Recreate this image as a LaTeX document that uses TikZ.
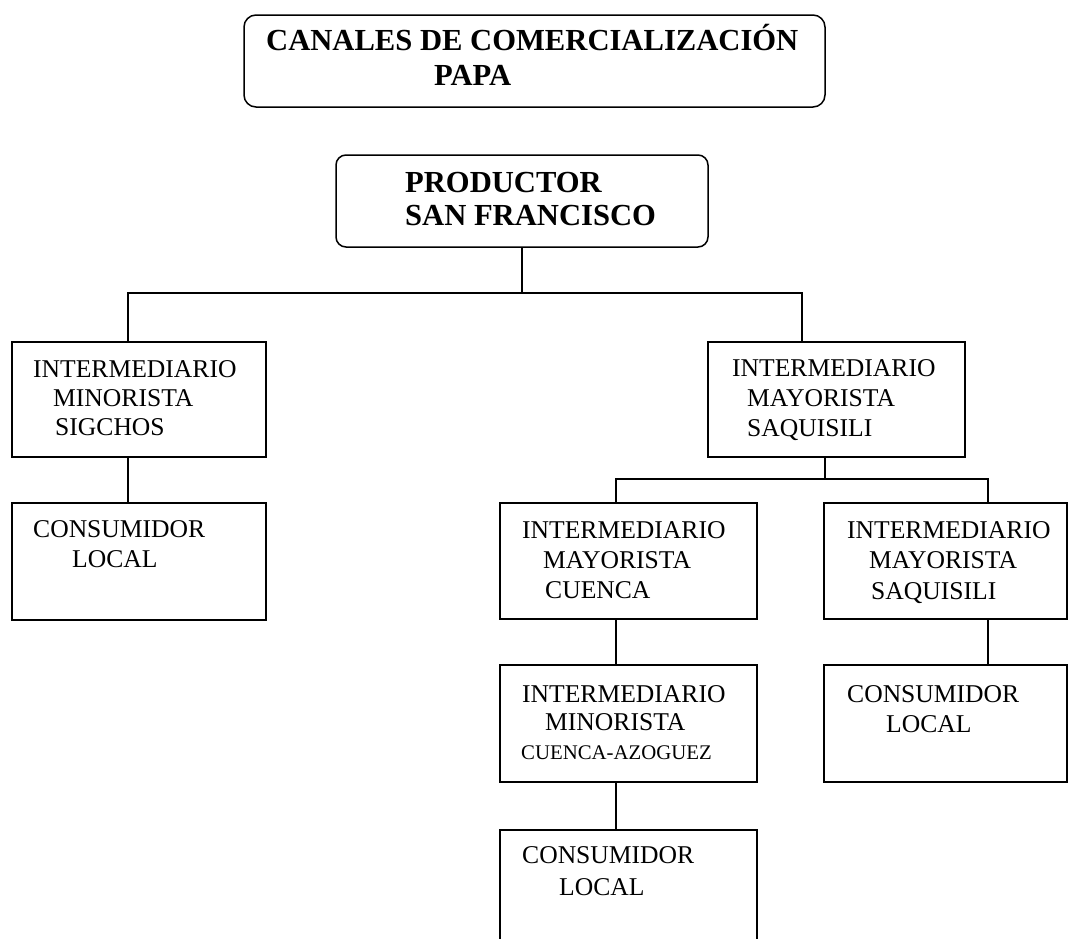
\documentclass[tikz,border=0pt]{standalone}
\usepackage{fontspec}
\setmainfont{Liberation Serif}
\begin{document}
\begin{tikzpicture}[x=1pt,y=-1pt,
  box/.style={draw, line width=1.5pt, anchor=north west, inner sep=0pt, outer sep=0pt},
  rbox/.style={box, rounded corners=12pt},
  conn/.style={line width=1.5pt},
  reg/.style={anchor=base west, inner sep=0pt, font=\fontsize{25.6}{30}\selectfont},
  sml/.style={anchor=base west, inner sep=0pt, font=\fontsize{20.8}{25}\selectfont},
  bld/.style={anchor=base west, inner sep=0pt, font=\fontsize{30.6}{36}\selectfont\bfseries}]
\useasboundingbox (0,0) rectangle (1069,938);
\clip (0,0) rectangle (1069,938);
\fill[white] (0,0) rectangle (1069,938);
% boxes
\node[rbox, minimum width=581pt, minimum height=92pt] (title) at (244,15) {};
\node[rbox, rounded corners=10pt, minimum width=372pt, minimum height=92pt] (prod) at (336,155) {};
\node[box, minimum width=254pt, minimum height=115pt] (L1) at (12,342) {};
\node[box, minimum width=254pt, minimum height=117pt] (L2) at (12,503) {};
\node[box, minimum width=257pt, minimum height=115pt] (R1) at (708,342) {};
\node[box, minimum width=257pt, minimum height=116pt] (C1) at (500,503) {};
\node[box, minimum width=243pt, minimum height=116pt] (D1) at (824,503) {};
\node[box, minimum width=257pt, minimum height=117pt] (C2) at (500,665) {};
\node[box, minimum width=243pt, minimum height=117pt] (D2) at (824,665) {};
\node[box, minimum width=257pt, minimum height=130pt] (C3) at (500,830) {};
% connector coordinates
\coordinate (j1) at (522,293);
\coordinate (L1top) at (128,342);
\coordinate (R1top) at (802,342);
\coordinate (L1bot) at (128,457);
\coordinate (L2top) at (128,503);
\coordinate (R1bot) at (825,457);
\coordinate (j2) at (825,479);
\coordinate (C1top) at (616,503);
\coordinate (D1top) at (988,503);
\coordinate (C1bot) at (616,619);
\coordinate (C2top) at (616,665);
\coordinate (C2bot) at (616,782);
\coordinate (C3top) at (616,830);
\coordinate (D1bot) at (988,619);
\coordinate (D2top) at (988,665);
% connectors
\draw[conn] (prod.south) -- (j1);
\draw[conn] (j1) -| (L1top);
\draw[conn] (j1) -| (R1top);
\draw[conn] (L1bot) -- (L2top);
\draw[conn] (R1bot) -- (j2);
\draw[conn] (j2) -| (C1top);
\draw[conn] (j2) -| (D1top);
\draw[conn] (C1bot) -- (C2top);
\draw[conn] (C2bot) -- (C3top);
\draw[conn] (D1bot) -- (D2top);
% texts
\node[bld] (ta1) at (266,50) {CANALES DE COMERCIALIZACIÓN};
\node[bld] (ta2) at (434,85) {PAPA};
\node[bld] (tb1) at (405,192) {PRODUCTOR};
\node[bld] (tb2) at (405,225) {SAN FRANCISCO};
\node[reg] (tc1) at (33,377) {INTERMEDIARIO};
\node[reg] (tc2) at (53,406) {MINORISTA};
\node[reg] (tc3) at (55,435) {SIGCHOS};
\node[reg] (td1) at (33,537) {CONSUMIDOR};
\node[reg] (td2) at (72,567) {LOCAL};
\node[reg] (te1) at (732,376) {INTERMEDIARIO};
\node[reg] (te2) at (747,406) {MAYORISTA};
\node[reg] (te3) at (747,436) {SAQUISILI};
\node[reg] (tf1) at (522,538) {INTERMEDIARIO};
\node[reg] (tf2) at (543,568) {MAYORISTA};
\node[reg] (tf3) at (545,598) {CUENCA};
\node[reg] (tg1) at (847,538) {INTERMEDIARIO};
\node[reg] (tg2) at (869,568) {MAYORISTA};
\node[reg] (tg3) at (871,599) {SAQUISILI};
\node[reg] (th1) at (522,702) {INTERMEDIARIO};
\node[reg] (th2) at (545,730) {MINORISTA};
\node[sml] (th3) at (521,759) {CUENCA-AZOGUEZ};
\node[reg] (ti1) at (847,702) {CONSUMIDOR};
\node[reg] (ti2) at (886,732) {LOCAL};
\node[reg] (tj1) at (522,863) {CONSUMIDOR};
\node[reg] (tj2) at (559,895) {LOCAL};
\end{tikzpicture}
\end{document}
